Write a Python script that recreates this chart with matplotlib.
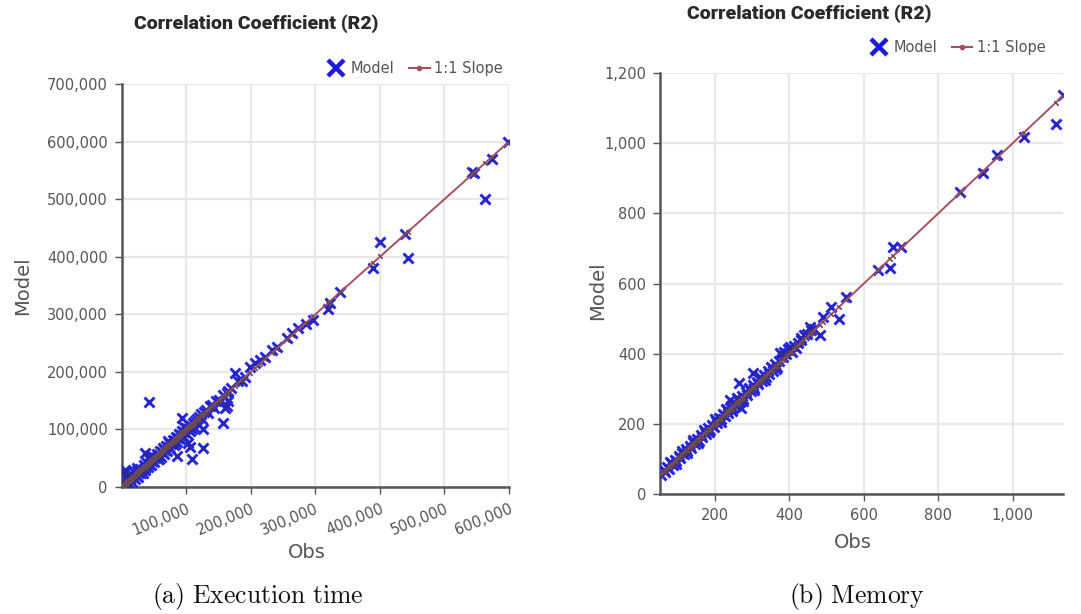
import matplotlib
matplotlib.use("Agg")
import matplotlib.pyplot as plt
from matplotlib.lines import Line2D
from matplotlib.ticker import FuncFormatter

# (a) Execution time: observed vs model values
exec_obs = [500, 1500, 2500, 3500, 4500, 6000, 7000, 8500, 10000, 11000,
            12500, 14000, 15500, 17000, 18500, 20000, 22000, 24000, 25500, 27000,
            29000, 30500, 32000, 34000, 35500, 37000, 39000, 40500, 42000, 44000,
            45500, 47000, 49000, 50500, 52000, 54000, 55500, 57000, 59000, 60500,
            62000, 64000, 65500, 67000, 69000, 70500, 72000, 74000, 75500, 77000,
            79000, 80500, 82000, 84000, 85500, 87000, 89000, 90500, 92000, 94000,
            95500, 97000, 99000, 100500, 102000, 104000, 106000, 108000, 110000, 112000,
            114000, 116000, 118000, 120000, 123000, 125000, 128000, 131000, 134000, 137000,
            140000, 143000, 146000, 150000, 153000, 157000, 165000, 170000, 186000,
            5000, 13000, 23000, 33000, 46000, 58000, 71000, 83000, 96000, 109000,
            42000, 36000, 85000, 93000, 103000, 106000, 108500, 126500, 126500, 157500,
            160000, 163000, 165000, 162800, 175700, 180000, 191000, 198900, 206500, 214000,
            222000, 232500, 240000, 255800, 263500, 273800, 285700, 297000, 320000, 322000,
            337400, 389000, 400400, 439000, 442800, 543000, 546000, 563000, 573600, 598000]
exec_model = [2000, 24000, 8000, 1000, 15000, 28000, 4000, 12000, 19000, 6000,
              14000, 22000, 9000, 18000, 26000, 14000, 21000, 28000, 18000, 25000,
              32000, 24000, 30000, 38000, 29000, 35000, 42000, 34000, 40000, 47000,
              38000, 45000, 52000, 44000, 50000, 57000, 48000, 55000, 62000, 53000,
              60000, 67000, 58000, 65000, 72000, 63000, 70000, 77000, 68000, 75000,
              82000, 73000, 80000, 87000, 78000, 85000, 92000, 83000, 90000, 97000,
              88000, 95000, 102000, 92000, 100000, 107000, 98000, 106000, 112000, 104000,
              114000, 119000, 110000, 121000, 126000, 118000, 130000, 133000, 128000, 140000,
              142000, 138000, 149000, 152000, 148000, 160000, 167000, 172000, 184000,
              30000, 3000, 33000, 24000, 55000, 49000, 80000, 74000, 105000, 100000,
              147000, 58500, 54000, 120000, 76000, 70000, 48000, 68000, 100000, 110600,
              137000, 141000, 150000, 162700, 197400, 185000, 191500, 208900, 214700, 220000,
              226000, 237800, 243600, 258200, 266800, 275500, 284000, 290000, 310000, 319000,
              339000, 379700, 425900, 440000, 397000, 548000, 544600, 501000, 570000, 600000]

# (b) Memory: observed vs model values
mem_obs = [55, 62, 66, 72, 76, 82, 86, 92, 96, 102,
           106, 112, 116, 122, 126, 132, 136, 142, 146, 152,
           156, 162, 166, 172, 176, 182, 186, 192, 196, 202,
           206, 212, 216, 222, 226, 232, 236, 242, 246, 252,
           256, 262, 266, 272, 276, 282, 286, 292, 296, 302,
           306, 312, 316, 322, 326, 332, 336, 342, 346, 352,
           356, 362, 366, 372, 378, 382, 386, 392, 396, 402,
           406, 412, 418, 424, 432, 440, 448, 458, 466,
           80, 110, 140, 170, 200, 230, 260, 290, 320, 350,
           95, 125, 155, 185, 215, 245, 275, 305, 335, 365,
           1135, 1115, 1029, 957, 920, 857, 701, 679, 671, 638,
           553, 533, 513, 490, 481, 455, 430, 401, 374, 301,
           264, 240, 271]
mem_model = [55, 68, 63, 78, 72, 88, 82, 98, 93, 108,
             103, 118, 113, 128, 122, 138, 132, 148, 143, 158,
             152, 168, 163, 178, 172, 188, 183, 198, 192, 208,
             202, 218, 213, 228, 222, 240, 232, 250, 243, 260,
             252, 270, 263, 280, 272, 290, 283, 300, 293, 310,
             303, 320, 313, 330, 323, 340, 333, 350, 343, 360,
             352, 370, 363, 380, 398, 390, 405, 400, 412, 410,
             404, 422, 416, 430, 440, 452, 456, 468, 470,
             92, 122, 153, 183, 213, 243, 273, 303, 333, 362,
             86, 116, 146, 176, 206, 236, 266, 296, 326, 356,
             1138, 1056, 1017, 966, 914, 862, 705, 705, 643, 638,
             562, 500, 534, 505, 453, 477, 445, 420, 401, 344,
             317, 268, 244]

exec_xticks = [100000, 200000, 300000, 400000, 500000, 600000]
exec_yticks = [0, 100000, 200000, 300000, 400000, 500000, 600000, 700000]
mem_xticks = [200, 400, 600, 800, 1000]
mem_yticks = [0, 200, 400, 600, 800, 1000, 1200]

title = "Correlation Coefficient (R2)"
blue = "#2424f2"
navy = "#2a2a8c"
line_color = "#a8505c"
tick_color = "#6a4a52"
grid_color = "#e8e8e8"
text_color = "#555555"

fig = plt.figure(figsize=(10.81, 6.14), dpi=100)
fmt = FuncFormatter(lambda v, p: f"{v:,.0f}")


def draw_panel(ax, obs, model, xlim, ylim, xticks, yticks, rot):
    # blue halo under a thin darker cross, as in the source chart
    ax.plot(obs, model, linestyle="none", marker="x", color=blue,
            markersize=6.8, markeredgewidth=2.1, zorder=3)
    ax.plot(obs, model, linestyle="none", marker="x", color=navy,
            markersize=4.2, markeredgewidth=0.8, zorder=3)
    diag = sorted(obs)
    ax.plot(diag, diag, color=line_color, linewidth=1.4, zorder=4,
            marker=(2, 2, 45), markersize=4.5, markeredgecolor=tick_color,
            markeredgewidth=0.8)
    ax.set_xlim(*xlim)
    ax.set_ylim(*ylim)
    ax.set_xticks(xticks)
    ax.set_yticks(yticks)
    ax.xaxis.set_major_formatter(fmt)
    ax.yaxis.set_major_formatter(fmt)
    ax.grid(True, color=grid_color, linewidth=1.6, zorder=0)
    ax.set_axisbelow(True)
    for s in ["top", "right"]:
        ax.spines[s].set_visible(False)
    for s in ["left", "bottom"]:
        ax.spines[s].set_color("#555555")
        ax.spines[s].set_linewidth(1.8)
    ax.tick_params(axis="both", colors="#555555", labelcolor=text_color,
                   labelsize=10.5, length=5, width=1, pad=5)
    for lab in ax.get_xticklabels():
        lab.set_rotation(rot)
        if rot:
            lab.set_ha("right")
            lab.set_rotation_mode("anchor")


ax1 = fig.add_axes([0.1126, 0.2068, 0.3583, 0.6564])
draw_panel(ax1, exec_obs, exec_model, (0, 600000), (0, 700000),
           exec_xticks, exec_yticks, 22)
ax2 = fig.add_axes([0.6105, 0.1954, 0.3728, 0.6857])
draw_panel(ax2, mem_obs, mem_model, (52, 1135), (0, 1200),
           mem_xticks, mem_yticks, 0)

title_font = dict(family=["Roboto", "DejaVu Sans"], weight="black",
                  fontsize=14, color="#2a2a2a")
fig.text(0.237, 0.962, title, ha="center", va="center", **title_font)
fig.text(0.749, 0.977, title, ha="center", va="center", **title_font)

label_font = dict(fontsize=14, color=text_color)
fig.text(0.284, 0.100, "Obs", ha="center", va="center", **label_font)
fig.text(0.789, 0.117, "Obs", ha="center", va="center", **label_font)
fig.text(0.021, 0.535, "Model", ha="center", va="center", rotation=90, **label_font)
fig.text(0.553, 0.527, "Model", ha="center", va="center", rotation=90, **label_font)

handles = [Line2D([], [], linestyle="none", marker="x", color="#1a1ae0",
                  markersize=11, markeredgewidth=3.2),
           Line2D([], [], color=line_color, linewidth=1.5, marker="o",
                  markersize=3)]
names = ["Model", "1:1 Slope"]
for x, y in [(0.465, 0.889), (0.967, 0.922)]:
    fig.legend(handles, names, loc="center right", bbox_to_anchor=(x, y),
               ncol=2, frameon=False, fontsize=10.5, labelcolor=text_color,
               handlelength=1.4, handletextpad=0.3, columnspacing=1.0,
               borderaxespad=0, borderpad=0)

plt.rcParams["mathtext.fontset"] = "cm"
cap_font = dict(fontsize=18.5, color="#111111")
fig.text(0.238, 0.028, r"$\mathrm{(a)\ Execution\ time}$", ha="center", va="center", **cap_font)
fig.text(0.793, 0.028, r"$\mathrm{(b)\ Memory}$", ha="center", va="center", **cap_font)

fig.savefig("out.png", dpi=100)
